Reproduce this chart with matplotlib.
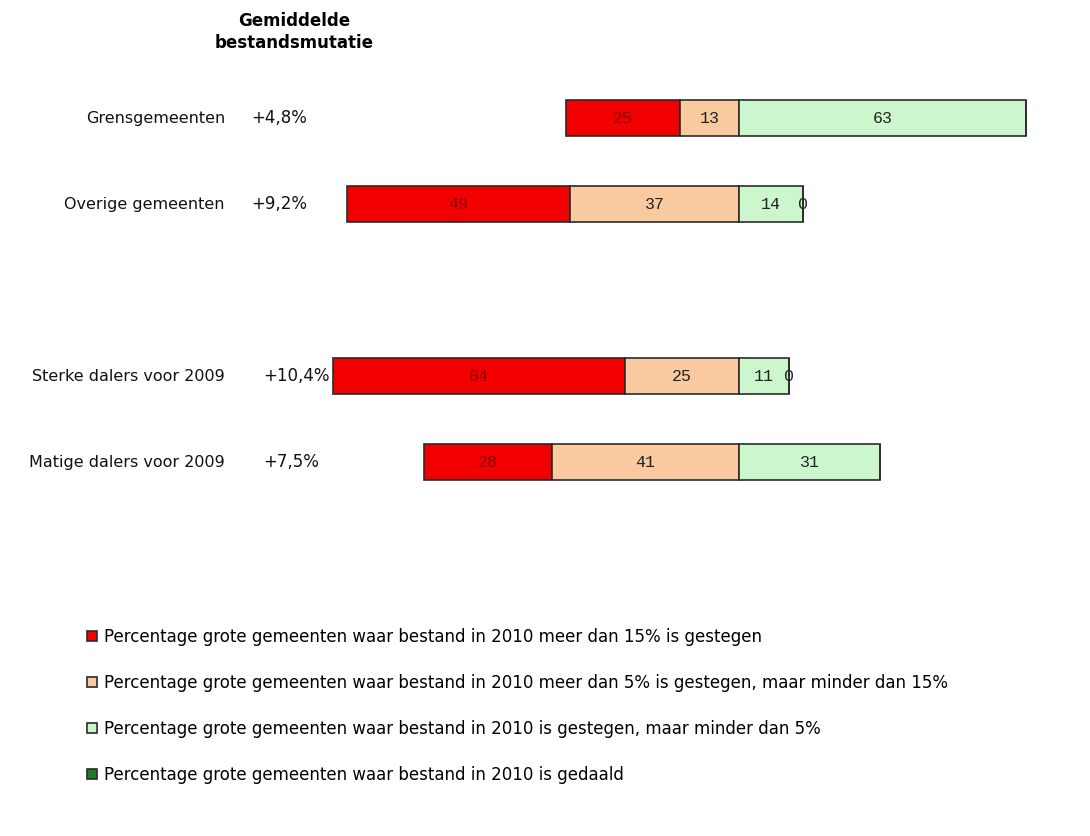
import matplotlib.pyplot as plt
import numpy as np
from matplotlib.transforms import blended_transform_factory

# Data
groups = ['Grensgemeenten', 'Overige gemeenten', 'Sterke dalers voor 2009', 'Matige dalers voor 2009']
mutatie = ['+4,8%', '+9,2%', '+10,4%', '+7,5%']
ypos = [0, 1, 3, 4]

meer15 = [25, 49, 64, 28]      # > 15% gestegen
tussen5_15 = [13, 37, 25, 41]  # 5-15% gestegen
minder5 = [63, 14, 11, 31]     # < 5% gestegen
gedaald = [0, 0, 0, 0]         # gedaald
show_gedaald = [False, True, True, False]

series_labels = [
    'Percentage grote gemeenten waar bestand in 2010 meer dan 15% is gestegen',
    'Percentage grote gemeenten waar bestand in 2010 meer dan 5% is gestegen, maar minder dan 15%',
    'Percentage grote gemeenten waar bestand in 2010 is gestegen, maar minder dan 5%',
    'Percentage grote gemeenten waar bestand in 2010 is gedaald',
]
colors = ['#f20000', '#f9c9a0', '#ccf7cc', '#1e7a1e']

W, H = 1090, 836
fig = plt.figure(figsize=(W / 100, H / 100), dpi=100)
ax = fig.add_axes([0, 0, 1, 1])

# diverging stacked bars: red/orange to the left of zero, greens to the right
meer15 = np.array(meer15)
tussen5_15 = np.array(tussen5_15)
minder5 = np.array(minder5)
gedaald = np.array(gedaald)

h = 0.41
kw = dict(height=h, edgecolor='#2b2b2b', linewidth=1.2)
b1 = ax.barh(ypos, -meer15, left=-tussen5_15, color=colors[0], label=series_labels[0], **kw)
b2 = ax.barh(ypos, -tussen5_15, left=0, color=colors[1], label=series_labels[1], **kw)
b3 = ax.barh(ypos, minder5, left=0, color=colors[2], label=series_labels[2], **kw)
b4 = ax.barh(ypos, gedaald, left=minder5, color=colors[3], label=series_labels[3], **kw)

mono = 'Liberation Mono'
ax.bar_label(b1, labels=[str(v) for v in meer15], label_type='center',
             color='#8a0000', family=mono, fontsize=12)
ax.bar_label(b2, labels=[str(v) for v in tussen5_15], label_type='center',
             color='#222222', family=mono, fontsize=12)
ax.bar_label(b3, labels=[str(v) for v in minder5], label_type='center',
             color='#222222', family=mono, fontsize=12)
ax.bar_label(b4, labels=[str(v) if s else '' for v, s in zip(gedaald, show_gedaald)],
             label_type='center', color='#222222', family=mono, fontsize=12)

# scale: zero at x=739 px, 4.56 px per percent; rows 86 px apart
px = 4.56
ax.set_xlim(-739 / px, (W - 739) / px)
ax.set_ylim((H - 118) / 86, -118 / 86)
ax.axis('off')

tr = blended_transform_factory(ax.transAxes, ax.transData)
for y, g, m in zip(ypos, groups, mutatie):
    ax.text(225 / W, y, g, transform=tr, ha='right', va='center', fontsize=11.5, color='#111111')
    mx = 251 if y < 2 else 263
    ax.text(mx / W, y, m, transform=tr, ha='left', va='center', fontsize=12, color='#111111')

fig.text(294 / W, 1 - 32 / H, 'Gemiddelde\nbestandsmutatie', ha='center', va='center',
         fontsize=12, fontweight='bold', linespacing=1.25)

leg = fig.legend(loc='upper left', bbox_to_anchor=(87 / W, 1 - 628 / H), frameon=False,
                 fontsize=12, labelspacing=1.68, handlelength=0.6, handleheight=0.6,
                 handletextpad=0.45, borderpad=0, borderaxespad=0)

plt.savefig('out.png', dpi=100)
